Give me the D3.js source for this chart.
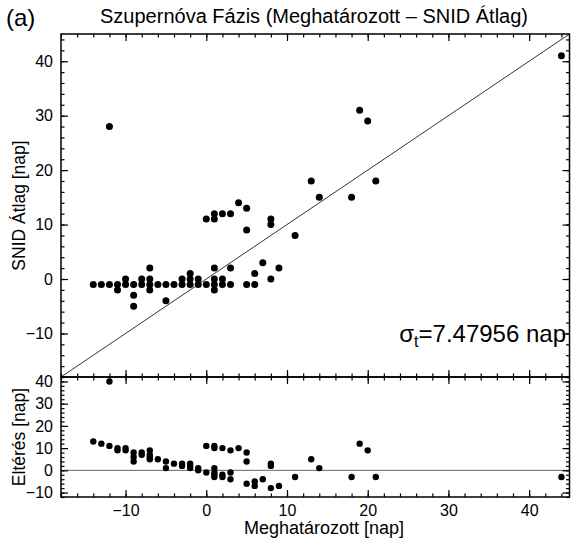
<!DOCTYPE html>
<meta charset="utf-8">
<body style="margin:0;background:#fff">
<script src="https://d3js.org/d3.v7.min.js"></script>
<script>

// Meghatározott (measured) phase, days
var meghat = [-14,-13,-12,-12,-11,-11,-10,-10,-9,-9,-9,-8,-8,-7,-7,-7,-7,-6,-5,-5,-4,-3,-3,
  -2,-2,-2,-1,-1,0,0,1,1,1,1,1,1,2,2,2,3,3,3,4,5,5,5,6,6,7,8,8,8,9,11,13,14,18,19,20,21,44];
// SNID átlag phase, days
var snid = [-1,-1,-1,28,-1,-2,0,-1,-1,-3,-5,0,-1,2,0,-1,-2,-1,-1,-4,-1,0,-1,
  1,0,-1,0,-1,-1,11,12,11,2,0,-1,-2,12,0,-1,12,2,-1,14,13,9,-1,1,-1,3,11,10,0,2,8,18,15,15,31,29,18,41];
var sigmaLabel = "7.47956";
var xTicks = [-10,0,10,20,30,40];
var yTopTicks = [-10,0,10,20,30,40];
var yBotTicks = [-10,0,10,20,30,40];

var W = 571, H = 539;
var L = 61, R = 569.5, T = 34, M = 377, B = 497;
var FONT = "'Liberation Sans', Arial, Helvetica, sans-serif";

var svg = d3.select('body').append('svg')
  .attr('width', W).attr('height', H)
  .style('font-family', FONT);

var x = d3.scaleLinear().domain([-18, 45]).range([L, R]);
var yT = d3.scaleLinear().domain([-18, 45]).range([M, T]);
var yB = d3.scaleLinear().domain([-12, 42]).range([B, M]);

var minor = d3.range(-18, 46, 2);
var minorB = d3.range(-12, 43, 2);

svg.append('clipPath').attr('id', 'clipT')
  .append('rect').attr('x', L).attr('y', T).attr('width', R - L).attr('height', M - T);
svg.append('clipPath').attr('id', 'clipB')
  .append('rect').attr('x', L).attr('y', M).attr('width', R - L).attr('height', B - M);

// reference lines
svg.append('line').attr('clip-path', 'url(#clipT)')
  .attr('x1', x(-18)).attr('y1', yT(-18)).attr('x2', x(45)).attr('y2', yT(45))
  .attr('stroke', '#333').attr('stroke-width', 1);
svg.append('line')
  .attr('x1', L).attr('x2', R).attr('y1', yB(0)).attr('y2', yB(0))
  .attr('stroke', '#666').attr('stroke-width', 1);

// points
var pts = meghat.map((d, i) => ({x: d, s: snid[i], r: snid[i] - d}));
svg.append('g').attr('clip-path', 'url(#clipT)').selectAll('circle').data(pts).enter()
  .append('circle').attr('cx', d => x(d.x)).attr('cy', d => yT(d.s)).attr('r', 3.5).attr('fill', '#000');
svg.append('g').attr('clip-path', 'url(#clipB)').selectAll('circle').data(pts).enter()
  .append('circle').attr('cx', d => x(d.x)).attr('cy', d => yB(d.r)).attr('r', 3.2).attr('fill', '#000');

// axes helper
function ax(axisFn, scale, vals, size, labels, tx, ty) {
  var a = axisFn(scale).tickValues(vals).tickSize(size).tickPadding(8);
  if (!labels) a.tickFormat('');
  var g = svg.append('g').attr('transform', `translate(${tx},${ty})`).call(a);
  g.select('.domain').remove();
  g.selectAll('line').attr('stroke', '#000').attr('stroke-width', 1.2);
  g.selectAll('text').attr('font-size', 16).attr('fill', '#000').attr('font-family', FONT);
  return g;
}

// top panel
ax(d3.axisLeft, yT, yTopTicks, -7, true, L, 0);
ax(d3.axisLeft, yT, minor, -3.5, false, L, 0);
ax(d3.axisRight, yT, yTopTicks, -7, false, R, 0);
ax(d3.axisRight, yT, minor, -3.5, false, R, 0);
ax(d3.axisTop, x, xTicks, -7, false, 0, T);
ax(d3.axisTop, x, minor, -3.5, false, 0, T);
ax(d3.axisBottom, x, xTicks, -7, false, 0, M);
ax(d3.axisBottom, x, minor, -3.5, false, 0, M);

// bottom panel
ax(d3.axisLeft, yB, yBotTicks, -7, true, L, 0);
ax(d3.axisLeft, yB, minorB, -3.5, false, L, 0);
ax(d3.axisRight, yB, yBotTicks, -7, false, R, 0);
ax(d3.axisRight, yB, minorB, -3.5, false, R, 0);
ax(d3.axisTop, x, xTicks, -7, false, 0, M);
ax(d3.axisTop, x, minor, -3.5, false, 0, M);
ax(d3.axisBottom, x, xTicks, -7, true, 0, B);
ax(d3.axisBottom, x, minor, -3.5, false, 0, B);

// frames
[[T, M], [M, B]].forEach(p => {
  svg.append('rect').attr('x', L).attr('y', p[0]).attr('width', R - L).attr('height', p[1] - p[0])
    .attr('fill', 'none').attr('stroke', '#000').attr('stroke-width', 1.5);
});

// texts
svg.append('text').attr('x', 6).attr('y', 26).attr('font-size', 24).text('(a)');
svg.append('text').attr('x', 314).attr('y', 23).attr('text-anchor', 'middle').attr('font-size', 20)
  .text('Szupernóva Fázis (Meghatározott – SNID Átlag)');
svg.append('text').attr('transform', `translate(25,${(T + M) / 2}) rotate(-90)`)
  .attr('text-anchor', 'middle').attr('font-size', 17.5).text('SNID Átlag [nap]');
svg.append('text').attr('transform', `translate(25,${(M + B) / 2}) rotate(-90)`)
  .attr('text-anchor', 'middle').attr('font-size', 17.5).text('Eltérés [nap]');
svg.append('text').attr('x', 324).attr('y', 534).attr('text-anchor', 'middle').attr('font-size', 18)
  .text('Meghatározott [nap]');

var st = svg.append('text').attr('x', 566).attr('y', 342).attr('text-anchor', 'end').attr('font-size', 24);
st.append('tspan').text('σ');
st.append('tspan').attr('font-size', 16).attr('dy', 5).text('t');
st.append('tspan').attr('dy', -5).text('=' + sigmaLabel + ' nap');

</script>
</body>
